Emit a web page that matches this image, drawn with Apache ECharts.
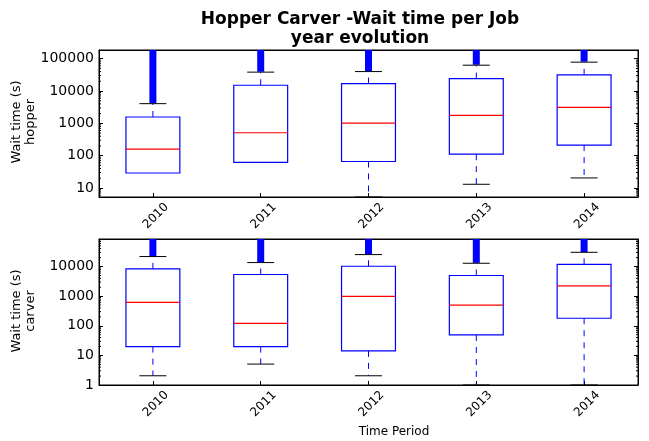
<!DOCTYPE html>
<html><head><meta charset="utf-8">
<script src="https://cdn.jsdelivr.net/npm/echarts@6/dist/echarts.min.js"></script>
<style>html,body{margin:0;padding:0;background:#fff}#c{width:649px;height:441px}</style>
</head><body><div id="c"></div>
<script>
const years = ['2010', '2011', '2012', '2013', '2014'];

// hopper (top panel) — values in seconds
const hopperLow = [null, null, 5.25, 13, 20.4];
const hopperQ1 = [29, 61.5, 66, 111, 212];
const hopperMedian = [159, 511, 1020, 1770, 3140];
const hopperQ3 = [1570, 15100, 17000, 24300, 31600];
const hopperHigh = [4060, 38400, 40000, 63000, 78300];
const hopperFlierMin = [4200, 39500, 41500, 65000, 81000];
const hopperFlierMax = [186000, 186000, 186000, 186000, 186000];

// carver (bottom panel)
const carverLow = [2.05, 5.08, 2.05, 1, 1];
const carverQ1 = [19.8, 19.8, 14.2, 49, 179];
const carverMedian = [617, 121, 980, 500, 2230];
const carverQ3 = [8300, 5380, 10200, 4980, 11900];
const carverHigh = [21700, 13600, 25300, 12900, 30200];
const carverFlierMin = [22300, 14000, 26000, 13300, 31000];
const carverFlierMax = [85000, 85000, 85000, 85000, 85000];

const hopperRange = [5.25, 186000];
const carverRange = [1, 85000];
const decades = [0, 1, 2, 3, 4, 5];
const minorMultipliers = [2, 3, 4, 5, 6, 7, 8, 9];

const BLUE = '#0000ff', RED = '#ff0000', BLACK = '#000000';
const FONT = 'DejaVu Sans';

function boxRender(low, q1, med, q3, high, fmin, fmax) {
  return function (params, api) {
    const i = params.dataIndex;
    const cs = params.coordSys;
    const band = cs.width / years.length;
    const x = api.coord([i, med[i]])[0];
    const y = v => api.coord([i, v])[1];
    const bw = band * 0.5, cw = band * 0.25, fw = 7;
    const ch = [];
    ch.push({type: 'rect', shape: {x: x - fw / 2, y: y(fmax[i]), width: fw, height: y(fmin[i]) - y(fmax[i])}, style: {fill: BLUE}});
    ch.push({type: 'line', shape: {x1: x, y1: y(q3[i]), x2: x, y2: y(high[i])}, style: {stroke: BLUE, lineWidth: 1, lineDash: [6, 6]}});
    ch.push({type: 'line', shape: {x1: x - cw / 2, y1: y(high[i]), x2: x + cw / 2, y2: y(high[i])}, style: {stroke: BLACK, lineWidth: 1}});
    if (low[i] != null) {
      ch.push({type: 'line', shape: {x1: x, y1: y(q1[i]), x2: x, y2: y(low[i])}, style: {stroke: BLUE, lineWidth: 1, lineDash: [6, 6]}});
      ch.push({type: 'line', shape: {x1: x - cw / 2, y1: y(low[i]), x2: x + cw / 2, y2: y(low[i])}, style: {stroke: BLACK, lineWidth: 1}});
    }
    ch.push({type: 'rect', shape: {x: x - bw / 2, y: y(q3[i]), width: bw, height: y(q1[i]) - y(q3[i])}, style: {fill: 'none', stroke: BLUE, lineWidth: 1.2}});
    ch.push({type: 'line', shape: {x1: x - bw / 2, y1: y(med[i]), x2: x + bw / 2, y2: y(med[i])}, style: {stroke: RED, lineWidth: 1.2}});
    return {type: 'group', children: ch};
  };
}

function minorRender(range) {
  return function (params, api) {
    const cs = params.coordSys;
    const ch = [];
    decades.forEach(d => {
      minorMultipliers.forEach(m => {
        const v = m * Math.pow(10, d);
        if (v <= range[0] || v >= range[1]) return;
        const yy = api.coord([0, v])[1];
        ch.push({type: 'line', shape: {x1: cs.x, y1: yy, x2: cs.x + 2, y2: yy}, style: {stroke: BLACK, lineWidth: 1}});
        ch.push({type: 'line', shape: {x1: cs.x + cs.width - 2, y1: yy, x2: cs.x + cs.width, y2: yy}, style: {stroke: BLACK, lineWidth: 1}});
      });
    });
    return {type: 'group', children: ch};
  };
}

function xAx(gridIndex, pos, showLabels) {
  return {
    type: 'category', gridIndex: gridIndex, data: years, position: pos, boundaryGap: true,
    axisLine: {show: true, lineStyle: {color: BLACK, width: 1}},
    axisTick: {show: true, inside: true, alignWithLabel: true, length: 4, lineStyle: {color: BLACK}},
    axisLabel: {show: showLabels, rotate: 45, fontSize: 12, fontFamily: FONT, color: BLACK,
      align: 'center', verticalAlign: 'middle', margin: 22, padding: [8.5, 0, 0, 8.5]},
    splitLine: {show: false}
  };
}
function yAx(gridIndex, range, pos, showLabels, showMin) {
  return {
    type: 'log', logBase: 10, gridIndex: gridIndex, position: pos, min: range[0], max: range[1],
    axisLine: {show: true, lineStyle: {color: BLACK, width: 1}},
    axisTick: {show: true, inside: true, length: 4, lineStyle: {color: BLACK}},
    axisLabel: {show: showLabels, margin: 5, fontSize: 14, fontFamily: FONT, color: BLACK,
      showMinLabel: showMin, showMaxLabel: false, formatter: v => String(Math.round(v))},
    splitLine: {show: false}
  };
}

const chart = echarts.init(document.getElementById('c'), null, {renderer: 'canvas'});
chart.setOption({
  backgroundColor: '#ffffff',
  animation: false,
  title: {
    text: 'Hopper Carver -Wait time per Job\nyear evolution',
    left: 360, top: 10, textAlign: 'center', padding: 0,
    textStyle: {fontSize: 17, fontWeight: 'bold', fontFamily: FONT, color: BLACK, lineHeight: 19}
  },
  grid: [
    {left: 99, top: 50, width: 539, height: 147, show: true, borderColor: BLACK, borderWidth: 1, containLabel: false},
    {left: 99, top: 239, width: 539, height: 146, show: true, borderColor: BLACK, borderWidth: 1, containLabel: false}
  ],
  xAxis: [xAx(0, 'bottom', true), xAx(0, 'top', false), xAx(1, 'bottom', true), xAx(1, 'top', false)],
  yAxis: [yAx(0, hopperRange, 'left', true, false), yAx(0, hopperRange, 'right', false, false),
          yAx(1, carverRange, 'left', true, true), yAx(1, carverRange, 'right', false, false)],
  graphic: [
    {type: 'text', x: 24, y: 122, rotation: Math.PI / 2,
      style: {text: 'Wait time (s)\nhopper', font: '13px "DejaVu Sans"', fill: BLACK, align: 'center', verticalAlign: 'middle', lineHeight: 14}},
    {type: 'text', x: 24, y: 311, rotation: Math.PI / 2,
      style: {text: 'Wait time (s)\ncarver', font: '13px "DejaVu Sans"', fill: BLACK, align: 'center', verticalAlign: 'middle', lineHeight: 14}},
    {type: 'text', x: 394, y: 432,
      style: {text: 'Time Period', font: '12px "DejaVu Sans"', fill: BLACK, align: 'center', verticalAlign: 'middle'}}
  ],
  series: [
    {type: 'custom', xAxisIndex: 0, yAxisIndex: 0, renderItem: boxRender(hopperLow, hopperQ1, hopperMedian, hopperQ3, hopperHigh, hopperFlierMin, hopperFlierMax),
      data: hopperMedian.map((m, i) => [i, m]), z: 3},
    {type: 'custom', xAxisIndex: 2, yAxisIndex: 2, renderItem: boxRender(carverLow, carverQ1, carverMedian, carverQ3, carverHigh, carverFlierMin, carverFlierMax),
      data: carverMedian.map((m, i) => [i, m]), z: 3},
    {type: 'custom', xAxisIndex: 0, yAxisIndex: 0, renderItem: minorRender(hopperRange), data: [[0, 100]], z: 5, silent: true},
    {type: 'custom', xAxisIndex: 2, yAxisIndex: 2, renderItem: minorRender(carverRange), data: [[0, 100]], z: 5, silent: true}
  ]
});
</script></body></html>
